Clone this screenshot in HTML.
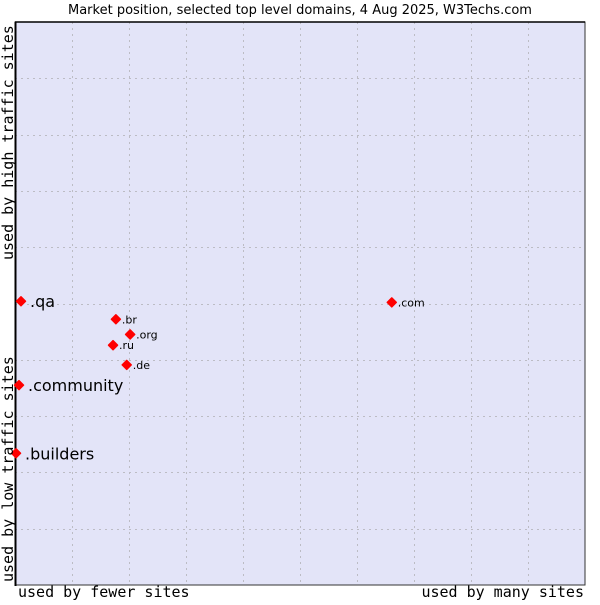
<!DOCTYPE html>
<html><head><meta charset="utf-8"><style>
body{margin:0;background:#fff;width:600px;height:600px;overflow:hidden}
</style></head><body>
<svg width="600" height="600" xmlns="http://www.w3.org/2000/svg">
<text x="300" y="14" text-anchor="middle" font-family="DejaVu Sans, sans-serif" font-size="13" fill="#000">Market position, selected top level domains, 4 Aug 2025, W3Techs.com</text>
<rect x="15" y="22" width="570" height="563" fill="#e3e4f8" stroke="#333" stroke-width="1"/>
<g id="grid"></g>
<line x1="15.5" y1="22" x2="15.5" y2="586" stroke="#000" stroke-width="2"/>
<line x1="15" y1="22" x2="585" y2="22" stroke="#000" stroke-width="1.5"/>
<g id="pts"></g>
<text x="18" y="597" font-family="DejaVu Sans Mono, monospace" font-size="15">used by fewer sites</text>
<text x="584" y="597" text-anchor="end" font-family="DejaVu Sans Mono, monospace" font-size="15">used by many sites</text>
<text transform="translate(13,582) rotate(-90)" font-family="DejaVu Sans Mono, monospace" font-size="15">used by low traffic sites</text>
<text transform="translate(13,260) rotate(-90)" font-family="DejaVu Sans Mono, monospace" font-size="15">used by high traffic sites</text>
</svg>
<script>
const names=[".qa",".community",".builders",".br",".org",".ru",".de",".com"];
const xVals=[1.05,0.7,0.18,17.7,20.2,17.2,19.6,66.1];
const yVals=[50.4,35.5,23.4,47.2,44.5,42.6,39.1,50.2];
const bigLabel=[true,true,true,false,false,false,false,false];
const X0=15,X1=585,Y0=585,Y1=22;
function sx(v){return X0+v/100*(X1-X0);}
function sy(v){return Y0-v/100*(Y0-Y1);}
const NS="http://www.w3.org/2000/svg";
const grid=document.getElementById('grid');
for(let i=1;i<10;i++){
  const l=document.createElementNS(NS,'line');
  
  
  const x=Math.round(sx(i*10))+0.5;
  l.setAttribute('x1',x);l.setAttribute('x2',x);l.setAttribute('y1',Y1);l.setAttribute('y2',Y0);
  l.setAttribute('stroke','#bcbcc4');l.setAttribute('stroke-dasharray','2,4');
  grid.appendChild(l);
  const h=document.createElementNS(NS,'line');
  
  
  const y=Math.round(sy(i*10))+0.5;
  h.setAttribute('x1',X0);h.setAttribute('x2',X1);h.setAttribute('y1',y);h.setAttribute('y2',y);
  h.setAttribute('stroke','#bcbcc4');h.setAttribute('stroke-dasharray','2,4');
  grid.appendChild(h);
}
const pts=document.getElementById('pts');
names.forEach((n,i)=>{
  const x=sx(xVals[i]),y=sy(yVals[i]);
  const p=document.createElementNS(NS,'polygon');
  
  
  p.setAttribute('points',`${x},${y-4.5} ${x+4.5},${y} ${x},${y+4.5} ${x-4.5},${y}`);
  p.setAttribute('fill','#f00');
  p.setAttribute('stroke','#f00');
  p.setAttribute('stroke-width','1.5');
  p.setAttribute('stroke-linejoin','round');
  pts.appendChild(p);
  const t=document.createElementNS(NS,'text');
  
  
  t.setAttribute('x',x+(bigLabel[i]?9:6));
  t.setAttribute('y',y+(bigLabel[i]?6:4));
  t.setAttribute('font-family','DejaVu Sans, sans-serif');
  t.setAttribute('font-size',bigLabel[i]?16:11);
  t.textContent=n;
  pts.appendChild(t);
});
</script>
</body></html>
